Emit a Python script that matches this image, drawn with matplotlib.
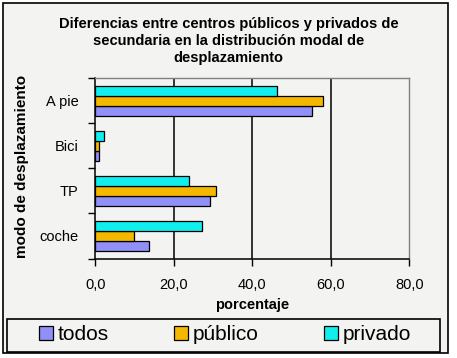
import numpy as np
import matplotlib
matplotlib.use('Agg')
import matplotlib.pyplot as plt
from matplotlib.patches import Rectangle
from matplotlib.ticker import FuncFormatter

plt.rcParams['font.family'] = ['Liberation Sans', 'DejaVu Sans']

# datos (porcentaje)
modos = ['A pie', 'Bici', 'TP', 'coche']
todos = [55.2, 1.0, 29.3, 13.7]
publico = [58.0, 1.0, 30.8, 9.9]
privado = [46.2, 2.2, 23.9, 27.2]
series = ['todos', 'público', 'privado']
colores = ['#9090F8', '#F5B800', '#11EEEE']

W, H = 457, 358
bg = '#F3F3F1'
fig = plt.figure(figsize=(W / 100, H / 100), dpi=100, facecolor='white')

# marco exterior
fig.patches.append(Rectangle((3 / W, 5 / H), 445 / W, 350 / H, transform=fig.transFigure,
                             facecolor=bg, edgecolor='black', linewidth=1.2, zorder=-5))

ax = fig.add_axes([95.3 / W, (H - 258.5) / H, 314 / W, 180.2 / H])
ax.set_facecolor(bg)
ax.set_zorder(2)

n = len(modos)
y = np.arange(n)[::-1].astype(float)  # A pie arriba
h = 0.22
valores = [todos, publico, privado]
offs = [-h, 0, h]
barras = []
for vals, col, off, lab in zip(valores, colores, offs, series):
    b = ax.barh(y + off, vals, height=h, color=col, edgecolor='black', linewidth=0.9,
                label=lab, zorder=3)
    barras.append(b)

ax.set_xlim(0, 80)
ax.set_ylim(-0.5, n - 0.5)
ax.set_xticks([0, 20, 40, 60, 80])
ax.xaxis.set_major_formatter(FuncFormatter(lambda v, p: f'{v:.1f}'.replace('.', ',')))
ax.tick_params(axis='x', direction='out', length=5, width=1, pad=9, labelsize=10.5)
for xv in [20, 40, 60]:
    ax.axvline(xv, color='black', linewidth=1.1, zorder=1)

# ticks en los limites de categoria, etiquetas en el centro
ax.set_yticks(np.arange(-0.5, n, 1.0))
ax.set_yticklabels([])
ax.set_yticks(y, minor=True)
ax.set_yticklabels(modos, minor=True)
ax.tick_params(axis='y', which='major', direction='out', length=5, width=1)
ax.tick_params(axis='y', which='minor', length=0, pad=12, labelsize=10.5)

for s in ['left', 'bottom']:
    ax.spines[s].set_color('black')
    ax.spines[s].set_linewidth(1.1)
for s in ['top', 'right']:
    ax.spines[s].set_color('#808080')
    ax.spines[s].set_linewidth(1.0)

ax.set_xlabel('porcentaje', fontsize=10.5, fontweight='bold', labelpad=4)
fig.text(22 / W, (H - 166) / H, 'modo de desplazamiento', rotation=90, fontsize=11,
         fontweight='bold', ha='center', va='center')

fig.text(0.5, (H - 41) / H,
         'Diferencias entre centros públicos y privados de\n'
         'secundaria en la distribución modal de\n'
         'desplazamiento',
         ha='center', va='center', fontsize=10.5, fontweight='bold', linespacing=1.25)

# leyenda
fig.patches.append(Rectangle((7 / W, 6 / H), 433 / W, 33 / H, transform=fig.transFigure,
                             facecolor='none', edgecolor='black', linewidth=1.2, zorder=5))
pos = [41, 176, 326]
for b, lab, px in zip(barras, series, pos):
    fig.legend(handles=[b], labels=[lab], loc='center left',
               bbox_to_anchor=((px - 2) / W, (H - 335) / H), frameon=False,
               fontsize=15, handlelength=0.65, handleheight=0.65, handletextpad=0.25,
               borderpad=0, borderaxespad=0)

fig.savefig('out.png', dpi=100, facecolor='white')
